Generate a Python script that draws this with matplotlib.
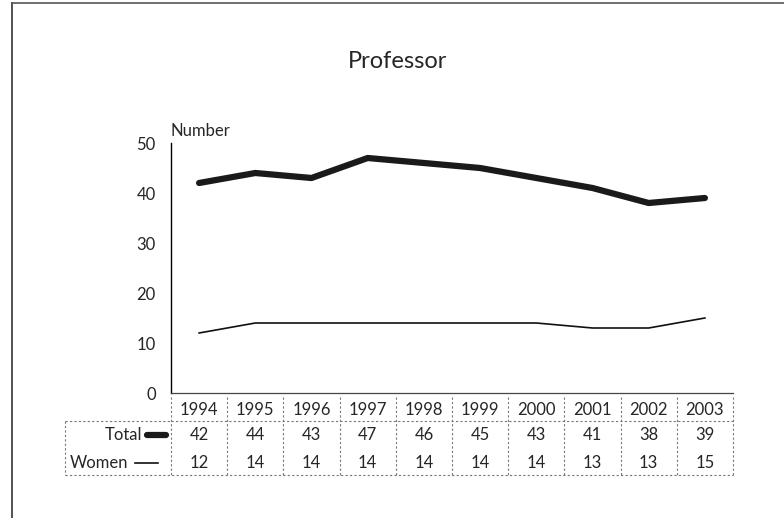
import matplotlib.pyplot as plt
from matplotlib.lines import Line2D

years = ["1994", "1995", "1996", "1997", "1998", "1999", "2000", "2001", "2002", "2003"]
total = [42, 44, 43, 47, 46, 45, 43, 41, 38, 39]
women = [12, 14, 14, 14, 14, 14, 14, 13, 13, 15]
yticks = [0, 10, 20, 30, 40, 50]

plt.rcParams['font.family'] = ['Lato', 'DejaVu Sans']
txt = "#262626"
fs = 12

fig = plt.figure(figsize=(7.84, 5.18), dpi=100)
W, H = 784, 518
# axes box in pixels: x 171..733, y 143..393
ax = fig.add_axes([171 / W, 1 - 393 / H, 562 / W, 250 / H])
x = list(range(len(years)))
ax.plot(x, total, color="#1a1a1a", lw=4.5, solid_capstyle="round", solid_joinstyle="round")
ax.plot(x, women, color="#111111", lw=1.2)
ax.set_xlim(-0.5, len(years) - 0.5)
ax.set_ylim(0, 50)
ax.set_yticks(yticks)
ax.set_yticklabels([str(v) for v in yticks], fontsize=fs, color=txt)
ax.set_xticks([])
ax.tick_params(axis="y", length=0, pad=11)
for s in ["top", "right"]:
    ax.spines[s].set_visible(False)
ax.spines["left"].set_linewidth(1.0)
ax.spines["bottom"].set_linewidth(0.9)
ax.spines["bottom"].set_color("#444444")

fig.text(398 / W, 1 - 62 / H, "Professor", ha="center", va="center", fontsize=17, color=txt)
ax.text(0.0, 1.05, "Number", transform=ax.transAxes, ha="left", va="center", fontsize=fs, color=txt)

# data table under the axes (axes coords: 1 px = 1/250 in y, 1/562 in x)
tr = ax.transAxes
def py(p):
    return (393 - p) / 250.0
def px(p):
    return (p - 171) / 562.0

grid_kw = dict(transform=tr, color="#777777", lw=0.8, ls=(0, (2, 2)), clip_on=False)
n = len(years)
for i in range(n + 1):
    xx = i / n
    ax.add_line(Line2D([xx, xx], [py(397), py(475)], **grid_kw))
ax.add_line(Line2D([0, 1], [py(421), py(421)], **grid_kw))
ax.add_line(Line2D([px(65), 1], [py(475), py(475)], **grid_kw))
ax.add_line(Line2D([px(65), 0], [py(421), py(421)], **grid_kw))
ax.add_line(Line2D([px(65), px(65)], [py(421), py(475)], **grid_kw))

for i in range(n):
    cx = (i + 0.5) / n
    ax.text(cx, py(410), years[i], transform=tr, ha="center", va="center", fontsize=fs, color=txt)
    ax.text(cx, py(435), str(total[i]), transform=tr, ha="center", va="center", fontsize=fs, color=txt)
    ax.text(cx, py(463), str(women[i]), transform=tr, ha="center", va="center", fontsize=fs, color=txt)

ax.text(px(142), py(435), "Total", transform=tr, ha="right", va="center", fontsize=fs, color=txt)
ax.add_line(Line2D([px(147), px(166)], [py(435), py(435)], transform=tr, color="#1a1a1a", lw=4.5,
                   solid_capstyle="round", clip_on=False))
ax.text(px(70), py(463), "Women", transform=tr, ha="left", va="center", fontsize=fs, color=txt)
ax.add_line(Line2D([px(135), px(158)], [py(463), py(463)], transform=tr, color="#111111", lw=1.2,
                   clip_on=False))

# page border
fig.add_artist(Line2D([12 / W, 12 / W], [0, 1 - 3 / H], transform=fig.transFigure, color="#333333", lw=1.2))
fig.add_artist(Line2D([12 / W, 1], [1 - 3 / H, 1 - 3 / H], transform=fig.transFigure, color="#555555", lw=1.2))

fig.savefig("out.png", dpi=100)
